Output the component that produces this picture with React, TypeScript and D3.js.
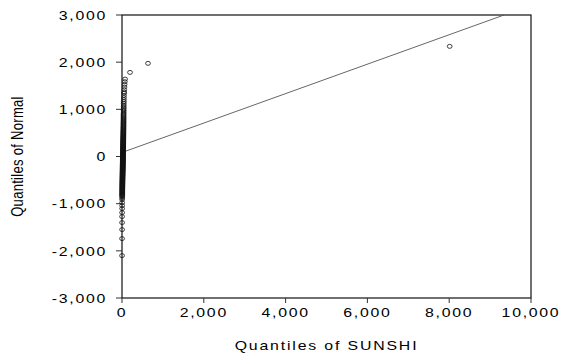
import React from 'react';
import * as d3 from 'd3';

const sunshiQuantiles = [
  1, 1, 2, 2, 2, 3, 3, 3, 4, 4, 4,
  4, 5, 5, 5, 5, 6, 6, 6, 6, 7,
  7, 7, 7, 8, 8, 8, 8, 9, 9, 9,
  9, 10, 10, 10, 10, 11, 11, 11, 11, 12,
  12, 12, 12, 13, 13, 13, 13, 14, 14, 14,
  14, 15, 15, 15, 15, 16, 16, 16, 16, 17,
  17, 17, 17, 18, 18, 18, 18, 19, 19, 19,
  19, 20, 20, 20, 20, 21, 21, 21, 21, 22,
  22, 22, 22, 23, 23, 23, 23, 24, 24, 24,
  24, 25, 25, 25, 25, 26, 26, 26, 26, 27,
  27, 27, 27, 28, 28, 28, 28, 29, 29, 29,
  29, 30, 30, 30, 30, 31, 31, 31, 31, 32,
  32, 32, 32, 33, 33, 33, 33, 34, 34, 34,
  34, 35, 35, 35, 35, 36, 36, 36, 36, 37,
  37, 37, 37, 38, 38, 38, 38, 39, 39, 40,
  40, 41, 41, 42, 42, 43, 44, 45, 46, 47,
  50, 53, 56, 60, 64, 69, 75, 196, 636, 8012,
];
const normalQuantiles = [
  -2102, -1741, -1550, -1401, -1274, -1189, -1104, -1040, -977, -913, -880,
  -850, -834, -818, -803, -788, -773, -758, -744, -730, -716,
  -702, -688, -675, -662, -649, -636, -623, -610, -598, -585,
  -573, -561, -549, -537, -525, -513, -501, -490, -478, -467,
  -455, -444, -433, -422, -411, -400, -389, -378, -367, -356,
  -345, -335, -324, -313, -303, -292, -282, -271, -261, -250,
  -240, -229, -219, -208, -198, -188, -177, -167, -156, -146,
  -136, -125, -115, -104, -94, -84, -73, -63, -52, -42,
  -31, -21, -10, 0, 11, 21, 32, 42, 53, 64,
  74, 85, 96, 106, 117, 128, 139, 150, 161, 172,
  183, 194, 205, 216, 228, 239, 251, 262, 274, 286,
  298, 310, 322, 334, 346, 359, 371, 384, 397, 410,
  423, 436, 450, 464, 478, 492, 506, 521, 536, 551,
  566, 582, 598, 614, 631, 648, 665, 683, 701, 720,
  739, 759, 779, 800, 822, 844, 867, 891, 916, 942,
  969, 997, 1027, 1058, 1091, 1126, 1163, 1203, 1246, 1292,
  1340, 1366, 1417, 1472, 1529, 1586, 1641, 1783, 1975, 2335,
];
const refLineX = [0, 9340];
const refLineY = [85, 3000];
const xTicks = [0, 2000, 4000, 6000, 8000, 10000];
const yTicks = [-3000, -2000, -1000, 0, 1000, 2000, 3000];

const W = 561;
const H = 358;
const FRAME = { left: 122, right: 531, top: 15, bottom: 298 };
const FONT = '"Liberation Sans", Arial, sans-serif';
const SX = 1.22; // the picture is stretched sideways
const fmt = d3.format(',');

function Label({ x, y, anchor, children, ls = 1.4 }: any) {
  return (
    <g transform={`translate(${x},${y}) scale(${SX},1)`}>
      <text textAnchor={anchor} fontFamily={FONT} fontSize={13} letterSpacing={ls} fill="#000">
        {children}
      </text>
    </g>
  );
}

export default function App() {
  const x = d3.scaleLinear().domain([0, 10000]).range([FRAME.left, FRAME.right]);
  const y = d3.scaleLinear().domain([-3000, 3000]).range([FRAME.bottom, FRAME.top]);

  const line = d3.line<number>()
    .x((_, i) => x(refLineX[i]))
    .y(d => y(d));

  const pts = sunshiQuantiles.map((s, i) => ({ s, n: normalQuantiles[i] }));

  return (
    <div style={{ position: 'absolute', left: 0, top: 0, background: '#fff' }}>
      <svg width={W} height={H} style={{ display: 'block' }}>
        <rect width={W} height={H} fill="#fff" />

        {/* frame */}
        <rect
          x={FRAME.left} y={FRAME.top}
          width={FRAME.right - FRAME.left} height={FRAME.bottom - FRAME.top}
          fill="none" stroke="#111" strokeWidth={1.2}
        />

        {/* y axis ticks + labels */}
        {yTicks.map(t => (
          <g key={t}>
            <line x1={FRAME.left - 6} x2={FRAME.left} y1={y(t)} y2={y(t)} stroke="#333" strokeWidth={1} />
            <Label x={107} y={y(t) + 4.7} anchor="end">{t < 0 ? '-' + fmt(-t) : fmt(t)}</Label>
          </g>
        ))}

        {/* x axis ticks + labels */}
        {xTicks.map(t => (
          <g key={t}>
            <line x1={x(t)} x2={x(t)} y1={FRAME.bottom} y2={FRAME.bottom + 5} stroke="#333" strokeWidth={1} />
            <Label x={x(t)} y={317} anchor="middle">{fmt(t)}</Label>
          </g>
        ))}

        {/* reference line */}
        <path d={line(refLineY) || ''} fill="none" stroke="#555" strokeWidth={0.9} />

        {/* points */}
        {pts.map((p, i) => (
          <ellipse key={i} cx={x(p.s)} cy={y(p.n)} rx={2.4} ry={2} fill="none" stroke="#111" strokeWidth={0.8} />
        ))}

        {/* axis titles */}
        <Label x={(FRAME.left + FRAME.right) / 2} y={350} anchor="middle" ls={1.5}>Quantiles of SUNSHI</Label>
        <g transform={`translate(23,${y(0)}) scale(${SX},1) rotate(-90)`}>
          <text textAnchor="middle" fontFamily={FONT} fontSize={13} letterSpacing={0.3} fill="#000">
            Quantiles of Normal
          </text>
        </g>
      </svg>
    </div>
  );
}
